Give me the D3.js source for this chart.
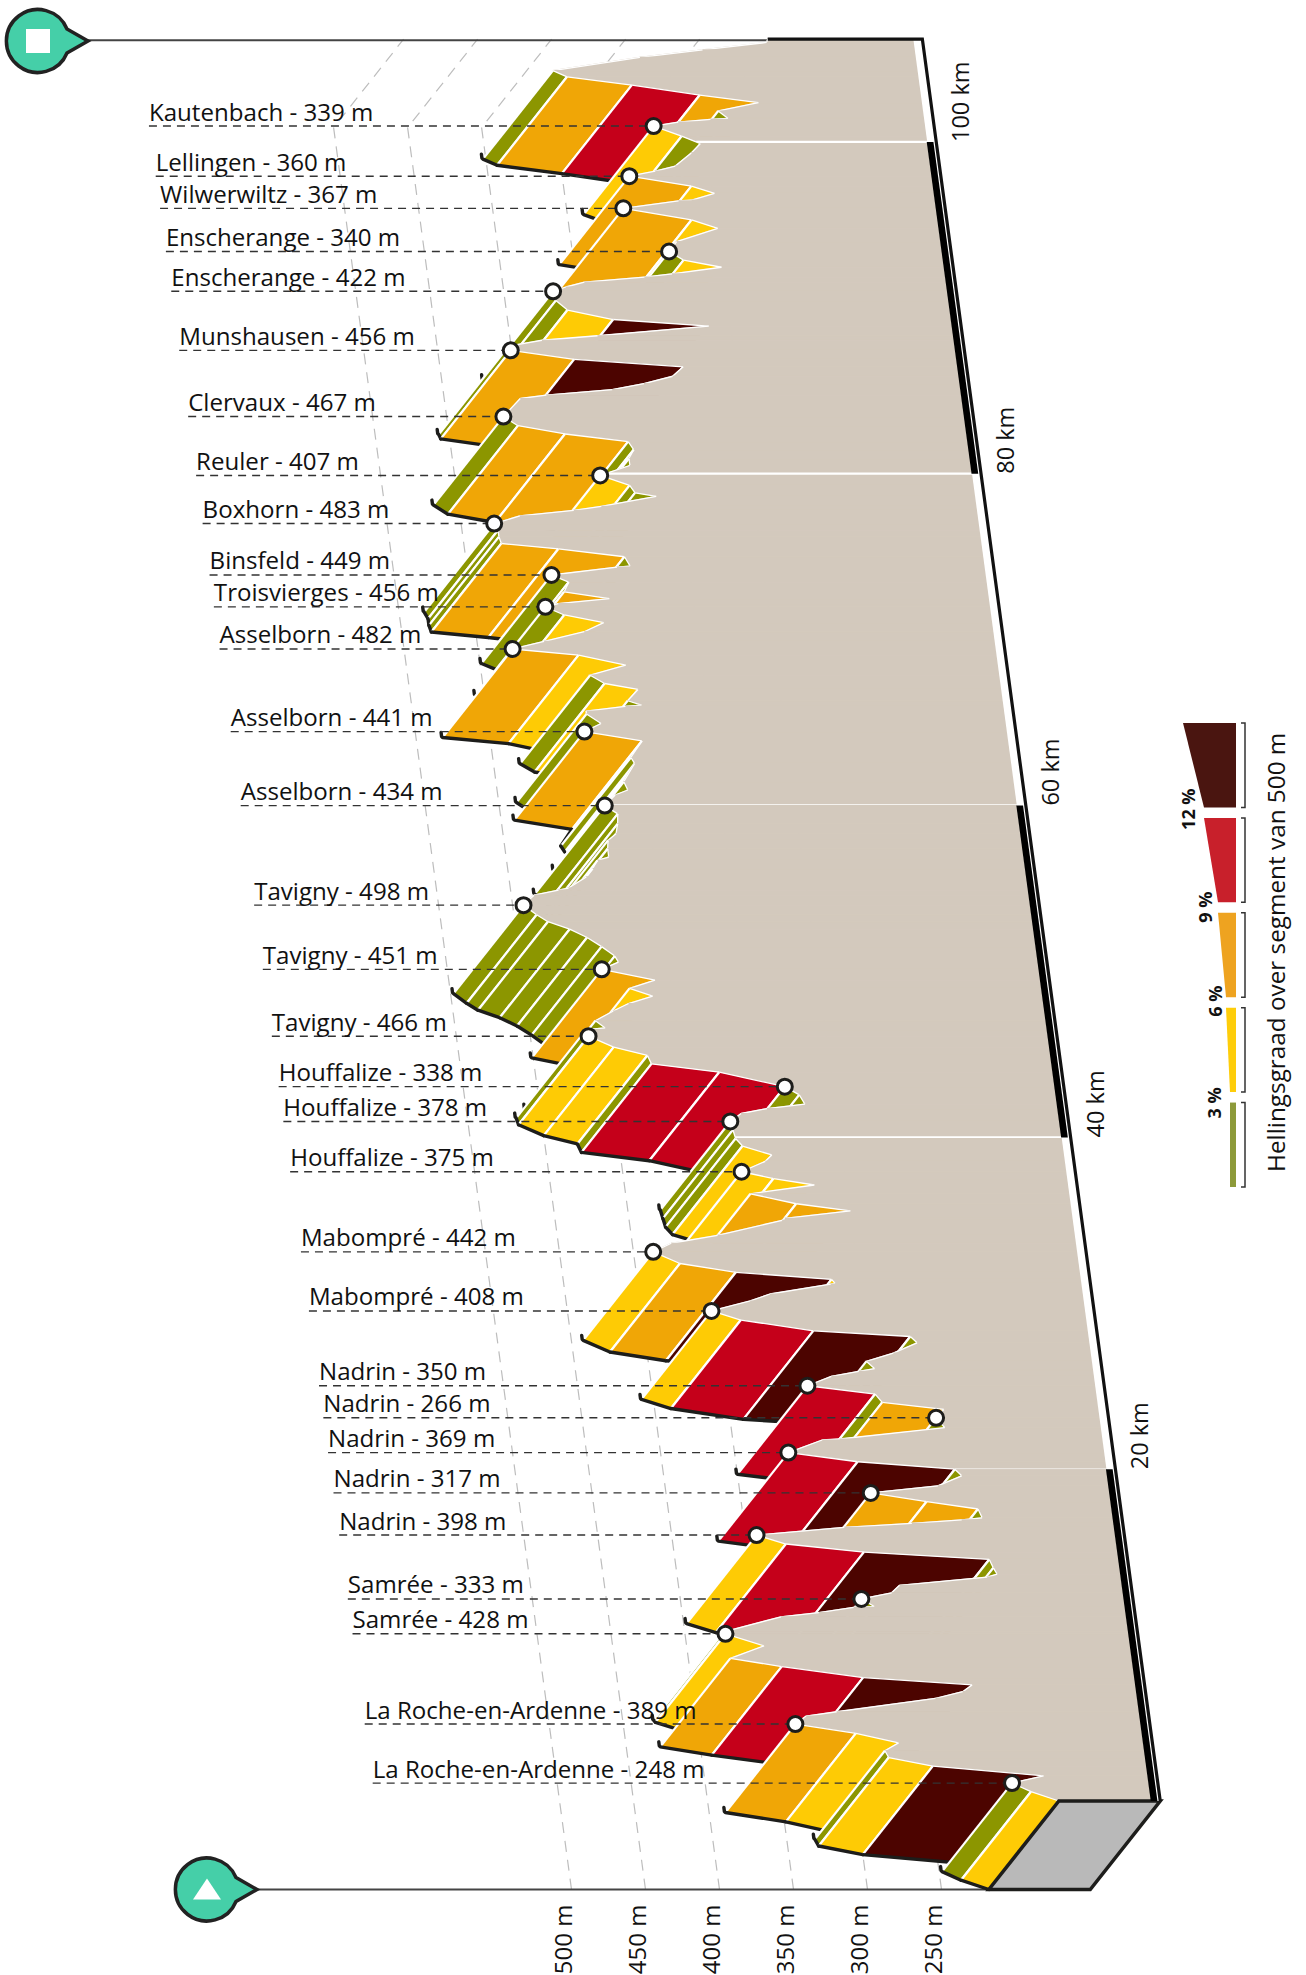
<!DOCTYPE html>
<html>
<head>
<meta charset="utf-8">
<script src="https://cdn.jsdelivr.net/npm/d3@7"></script>
<style>
  body { margin: 0; background: #fff; }
  text { font-family: "Open Sans", sans-serif; fill: #111; }
</style>
</head>
<body>
<svg id="chart" width="1306" height="1975"></svg>
<script>
// profile points: [km, altitude, grade class of the stretch arriving here]
// class 0..4 = the legend colours, null = descent, only the wall shows
var stretch0to20 = [
  [0, 218, null], [0.56, 236, 1], [1.08, 248, 0], [1.52, 226, null], [2.1, 300, 4], [2.62, 329, 1],
  [3.03, 331, 0], [3.5, 321, null], [4.08, 349, 1], [4.64, 389, 2], [5.12, 381, null], [5.38, 360, null],
  [6.18, 292, null], [6.59, 273, null], [7.0, 266, null], [7.44, 339, 4], [8.1, 393, 3], [8.6, 427, 2],
  [9.35, 403, null], [10.08, 428, 1], [10.2, 429, 0], [11.1, 389, null], [11.35, 363, null], [11.67, 339, null],
  [11.72, 325, null], [12.18, 333, 0], [12.55, 312, null], [13.0, 306, null], [13.5, 246, null], [13.67, 239, null],
  [14.05, 241, 0], [14.56, 243, 0], [15.0, 327, 4], [15.49, 379, 3], [16.03, 398, 1], [16.49, 338, null],
  [16.73, 292, null], [16.94, 258, null], [17.07, 244, null], [17.6, 246, 0], [18.05, 280, 2], [18.57, 317, 2],
  [19.0, 271, null], [19.6, 254, null], [20.0, 258, 0]
];
var stretch20to40 = [
  [20.45, 323, 4], [21.0, 369, 3], [21.76, 345, null], [21.82, 333, null], [22.5, 261, null], [23.1, 266, 0],
  [23.6, 260, null], [24.03, 301, 2], [24.53, 305, 0], [25.03, 350, 3], [25.6, 333, null], [25.9, 314, null],
  [26.06, 303, null], [26.5, 308, 0], [27.0, 289, null], [27.62, 272, null], [28.0, 276, 0], [28.34, 341, 4],
  [28.99, 389, 3], [29.54, 408, 1], [30.14, 381, null], [30.56, 367, null], [31.16, 325, null], [31.2, 322, null],
  [31.44, 324, 1], [31.87, 388, 4], [32.4, 425, 2], [33.1, 442, 1], [33.62, 429, null], [34.1, 397, null],
  [35.0, 352, null], [35.12, 350, null], [35.57, 305, null], [36.0, 341, 2], [36.6, 371, 2], [37.13, 327, null],
  [37.52, 354, 1], [37.93, 375, 1], [38.56, 358, null], [38.94, 353, null], [39.48, 372, 1], [39.93, 376, 0]
];
var stretch40to60 = [
  [40.45, 377, 0], [40.96, 378, 0], [41.44, 370, null], [41.74, 352, null], [42.0, 326, null], [42.56, 329, 0],
  [43.06, 338, 0], [43.93, 381, 3], [44.43, 426, 3], [44.94, 428, 0], [45.44, 450, 1], [46.1, 466, 1],
  [46.5, 467, 0], [46.6, 454, null], [47.03, 460, 0], [47.62, 447, null], [48.07, 436, null], [48.52, 419, null],
  [48.98, 434, 1], [49.48, 416, null], [50.13, 451, 2], [50.57, 439, null], [50.93, 441, 0], [51.5, 449, 0],
  [52.05, 458, 0], [52.55, 469, 0], [53.0, 483, 0], [53.42, 490, 0], [54.0, 498, 0], [54.6, 490, null],
  [54.9, 473, null], [55.03, 466, null], [55.7, 453, null], [56.2, 448, 0], [56.7, 444, 0], [56.9, 436, null],
  [57.4, 436, 0], [57.9, 435, 0], [58.3, 429, null], [58.9, 427, 0], [59.5, 426, 0]
];
var stretch60to80 = [
  [60.0, 434, 0], [60.64, 426, null], [60.94, 417, null], [61.44, 419, 0], [62.54, 410, null], [62.9, 412, 0],
  [63.9, 403, 0], [64.46, 441, 2], [64.95, 429, null], [65.52, 438, 0], [65.7, 438, null], [65.98, 411, null],
  [66.06, 400, null], [66.32, 409, 0], [67.0, 401, null], [67.36, 423, 1], [67.86, 432, 0], [68.47, 407, null],
  [69.07, 438, 1], [69.44, 482, 2], [69.9, 460, null], [70.48, 432, null], [71.03, 418, null], [71.49, 444, 1],
  [71.98, 456, 0], [72.18, 447, null], [72.48, 412, null], [72.88, 442, 2], [73.47, 438, 0], [73.9, 449, 0],
  [74.38, 404, null], [74.44, 395, null], [75.0, 398, 0], [75.47, 442, 2], [75.8, 480, 2], [76.2, 481, 0],
  [76.6, 481, 0], [77.0, 483, 0], [77.46, 465, null], [77.8, 428, null], [78.04, 409, null], [78.64, 371, null],
  [78.85, 385, 0], [79.3, 388, 0], [79.9, 407, 1]
];
var stretch80to106 = [
  [80.5, 386, null], [80.92, 386, 0], [81.46, 382, 0], [81.94, 385, 0], [82.4, 427, 2], [82.9, 458, 2],
  [83.45, 467, 0], [84.54, 454, null], [84.74, 436, null], [85.08, 391, null], [85.44, 369, null], [85.88, 349, null],
  [86.45, 341, null], [86.9, 414, 4], [87.44, 456, 2], [87.7, 457, 0], [88.05, 434, null], [88.32, 396, null],
  [88.9, 320, null], [89.3, 384, 4], [89.87, 414, 1], [90.44, 421, 0], [91.0, 422, 0], [91.26, 413, null],
  [91.55, 400, null], [91.85, 359, null], [92.05, 340, null], [92.45, 306, null], [92.88, 331, 1], [93.4, 340, 0],
  [94.0, 334, null], [94.8, 305, null], [95.3, 322, 1], [96.0, 367, 2], [96.45, 329, null], [96.5, 320, null],
  [96.9, 304, null], [97.34, 319, 1], [97.94, 360, 2], [98.25, 342, null], [98.55, 328, null], [99.34, 316, null],
  [99.9, 309, null], [100.35, 321, 0], [100.96, 339, 1], [101.2, 322, null], [101.36, 300, null], [101.42, 288, null],
  [101.87, 294, 0], [102.37, 266, null], [102.83, 305, 2], [103.43, 350, 3], [103.93, 393, 2], [104.3, 402, 0],
  [105.1, 342, null], [105.55, 299, null], [106.0, 255, null], [106.2, 254, null]
];

var placeNames = ["Kautenbach", "Lellingen", "Wilwerwiltz", "Enscherange", "Enscherange", "Munshausen", "Clervaux",
  "Reuler", "Boxhorn", "Binsfeld", "Troisvierges", "Asselborn", "Asselborn", "Asselborn", "Tavigny", "Tavigny", "Tavigny",
  "Houffalize", "Houffalize", "Houffalize", "Mabompré", "Mabompré", "Nadrin", "Nadrin", "Nadrin", "Nadrin", "Nadrin",
  "Samrée", "Samrée", "La Roche-en-Ardenne", "La Roche-en-Ardenne"];
var placeAlts = [339, 360, 367, 340, 422, 456, 467, 407, 483, 449, 456, 482, 441, 434, 498, 451, 466,
  338, 378, 375, 442, 408, 350, 266, 369, 317, 398, 333, 428, 389, 248];
var placeKms = [100.96, 97.94, 96.0, 93.4, 91.0, 87.44, 83.45, 79.9, 77.0, 73.9, 71.98, 69.44, 64.46, 60.0, 54.0, 50.13, 46.1,
  43.06, 40.96, 37.93, 33.1, 29.54, 25.03, 23.1, 21.0, 18.57, 16.03, 12.18, 10.08, 4.64, 1.08];

var altTicks = [500, 450, 400, 350, 300, 250];
var kmTicks = [20, 40, 60, 80, 100];
var gradeColors = ["#8c9600", "#fecb05", "#f0a606", "#c5001a", "#4c0400"];

var legendColors = ["#8d9a3a", "#fecd0a", "#eea320", "#c8202b", "#4a1510"];
var legendFrom = [0, 3, 6, 9, 12];
var legendTo = [3, 6, 9, 12, 18];
var legendLabels = ["3 %", "6 %", "9 %", "12 %"];
var legendLabelDx = [9, 4, 6, 9];
var legendLabelDy = [16, 9, 10, 12];

var floorAlt = 149.5;
var kmEnd = 106.2;
var labelAlt = 680;   // the leaders all start on this altitude line
var tan = "#d3c9bd";
var ink = "#1d1d1b";

var svg = d3.select("#chart");
var profile = stretch0to20.concat(stretch20to40, stretch40to60, stretch60to80, stretch80to106);

var xAlt = d3.scaleLinear().domain([250, 500]).range([941.5, 571.5]);
var yKm = d3.scaleLinear().domain([0, 100]).range([1889.5, 230.5]);
var kmShift = d3.scaleLinear().domain([0, 100]).range([0, -224]);
var depthX = d3.scaleLinear().domain([0, 1]).range([0, 70]);
var depthY = d3.scaleLinear().domain([0, 1]).range([0, -88.5]);

// km along the road, altitude, d = 0 front edge of the road and 1 back edge
function project(km, alt, d) {
  return [xAlt(alt) + kmShift(km) + depthX(d), yKm(km) + depthY(d)];
}

var line = d3.line();
var poly = function(pts) { return line(pts) + "Z"; };

// grid
var grid = svg.append("g");
altTicks.forEach(function(a) {
  grid.append("path")
    .attr("d", line([project(0, a, 0), project(kmEnd, a, 0), project(kmEnd, a, 1)]))
    .attr("fill", "none").attr("stroke", "#bdbdbd").attr("stroke-width", 1.2).attr("stroke-dasharray", "11 8");
  var p = project(0, a, 0);
  grid.append("text")
    .attr("transform", "translate(" + p[0] + "," + (p[1] + 15) + ") rotate(-90)")
    .attr("text-anchor", "end").attr("font-size", 24)
    .text(a + " m");
});

// guide lines and bubbles
var startP = project(0, profile[0][1], 0);
var endP = project(kmEnd, profile[profile.length - 1][1], 1);
svg.append("line").attr("x1", 70).attr("x2", endP[0]).attr("y1", endP[1] + 1).attr("y2", endP[1] + 1)
  .attr("stroke", "#444").attr("stroke-width", 2);
svg.append("line").attr("x1", 240).attr("x2", startP[0]).attr("y1", startP[1]).attr("y2", startP[1])
  .attr("stroke", "#444").attr("stroke-width", 2);

function bubble(cx, cy) {
  var g = svg.append("g").attr("transform", "translate(" + cx + "," + cy + ")");
  g.append("path")
    .attr("d", "M29,-12 L50,0 L29,12 A31.5,31.5 0 1 1 29,-12Z")
    .attr("fill", "#45cfa8").attr("stroke", "#222").attr("stroke-width", 3.5).attr("stroke-linejoin", "miter");
  return g;
}
bubble(38, 41).append("rect").attr("x", -12).attr("y", -12).attr("width", 24).attr("height", 24).attr("fill", "#fff");
bubble(207, startP[1]).append("path").attr("d", "M-14,10 L0,-11 L14,10Z").attr("fill", "#fff");

// painter's order: far end of the stage first, each stretch covers what lies behind it
var scene = svg.append("g");
var n = profile.length;
for (var i = n - 2; i >= 0; i--) {
  var a = profile[i], b = profile[i + 1], cls = b[2];
  var wall = [project(a[0], a[1], 1), project(b[0], b[1], 1), project(b[0], floorAlt, 1), project(a[0], floorAlt, 1)];
  scene.append("path").attr("d", poly(wall)).attr("fill", tan).attr("stroke", tan).attr("stroke-width", 1.2);

  kmTicks.forEach(function(k) {
    if (a[0] <= k && k < b[0]) {
      var top = a[1] + (b[1] - a[1]) * (k - a[0]) / (b[0] - a[0]);
      scene.append("path").attr("d", line([project(k, top, 1), project(k, floorAlt, 1)]))
        .attr("stroke", "#fff").attr("stroke-width", 2.5).attr("fill", "none");
    }
  });

  if (cls !== null) {
    var a1 = project(a[0], a[1], 1), b1 = project(b[0], b[1], 1), b0 = project(b[0], b[1], 0), a0 = project(a[0], a[1], 0);
    scene.append("path").attr("d", poly([a1, b1, b0, a0])).attr("fill", gradeColors[cls]);
    scene.append("path").attr("d", line([a1, a0])).attr("stroke", "#fff").attr("stroke-width", 2.2);
    scene.append("path").attr("d", line([b1, b0])).attr("stroke", "#fff").attr("stroke-width", 2.2);
    var last = i + 2 >= n || profile[i + 2][2] === null;
    var front = last ? [[b0[0] - 1.5, b0[1] - 5], [b0[0] - 1, b0[1] - 1], b0, a0] : [b0, a0];
    scene.append("path").attr("d", line(front))
      .attr("fill", "none").attr("stroke", ink).attr("stroke-width", 3.4).attr("stroke-linecap", "round").attr("stroke-linejoin", "round");
  }
  scene.append("path").attr("d", line([project(a[0], a[1], 1), project(b[0], b[1], 1)]))
    .attr("stroke", "#fff").attr("stroke-width", 1.3).attr("fill", "none");
}

// block at the start
var box = [project(0, profile[0][1], 0), project(0, floorAlt, 0), project(0, floorAlt, 1), project(0, profile[0][1], 1)];
svg.append("path").attr("d", poly(box)).attr("fill", "#b9b9b9").attr("stroke", ink).attr("stroke-width", 3.5).attr("stroke-linejoin", "miter");

// km axis, alternating bands next to the far floor line
var floor0 = project(0, floorAlt, 1), floor1 = project(kmEnd, floorAlt, 1);
svg.append("path").attr("d", poly([floor0, floor1, [floor1[0] - 9, floor1[1]], [floor0[0] - 9, floor0[1]]]))
  .attr("fill", "#fff");
var bandEdges = [0].concat(kmTicks, [kmEnd]);
d3.pairs(bandEdges).forEach(function(p, j) {
  if (j % 2 === 0) {
    var q0 = project(p[0], floorAlt, 1), q1 = project(p[1], floorAlt, 1);
    svg.append("path").attr("d", poly([[q0[0] - 2.8, q0[1]], [q1[0] - 2.8, q1[1]], [q1[0] - 9.5, q1[1]], [q0[0] - 9.5, q0[1]]]))
      .attr("fill", "#000");
  }
});
svg.append("path").attr("d", line([project(0, floorAlt, 1), project(kmEnd, floorAlt, 1), project(kmEnd, profile[n - 1][1], 1)]))
  .attr("fill", "none").attr("stroke", "#111").attr("stroke-width", 3.2).attr("stroke-linejoin", "miter");
kmTicks.forEach(function(k) {
  var p = project(k, floorAlt, 1);
  svg.append("text")
    .attr("transform", "translate(" + (p[0] + 33) + "," + p[1] + ") rotate(-90)")
    .attr("font-size", 23.5).text(k + " km");
});

// place names with their leaders
placeNames.forEach(function(name, j) {
  var m = project(placeKms[j], placeAlts[j], 1);
  var s = project(placeKms[j], labelAlt, 1);
  svg.append("line").attr("x1", s[0]).attr("x2", m[0]).attr("y1", m[1]).attr("y2", m[1])
    .attr("stroke", "#333").attr("stroke-width", 1.4).attr("stroke-dasharray", "8 6");
  svg.append("text").attr("x", s[0]).attr("y", m[1] - 5.5).attr("font-size", 24.1)
    .text(name + " - " + placeAlts[j] + " m");
  svg.append("circle").attr("cx", m[0]).attr("cy", m[1]).attr("r", 7.5)
    .attr("fill", "#fff").attr("stroke", ink).attr("stroke-width", 3);
});

// legend
var legendY = d3.scaleBand().domain([4, 3, 2, 1, 0]).range([723, 1187]).paddingInner(0.11);
var legendW = d3.scaleLinear().domain([0, 3, 6, 9, 12, 18]).range([6, 6, 10, 18, 32, 53]);
var legendRight = 1236;
legendColors.forEach(function(c, j) {
  var y0 = legendY(j), y1 = y0 + legendY.bandwidth();
  svg.append("path").attr("d", poly([[legendRight - legendW(legendTo[j]), y0], [legendRight, y0], [legendRight, y1], [legendRight - legendW(legendFrom[j]), y1]]))
    .attr("fill", c);
  svg.append("path").attr("d", "M1241," + y0 + "H1245V" + y1 + "H1241")
    .attr("fill", "none").attr("stroke", "#333").attr("stroke-width", 1.5);
  if (j < legendLabels.length) {
    svg.append("text")
      .attr("transform", "translate(" + (legendRight - legendW(legendTo[j]) - legendLabelDx[j]) + "," + (y0 + legendLabelDy[j]) + ") rotate(-90)")
      .attr("font-size", 18).attr("font-weight", 700).text(legendLabels[j]);
  }
});
svg.append("text").attr("transform", "translate(1285,1172) rotate(-90)")
  .attr("font-size", 24.3).text("Hellingsgraad over segment van 500 m");
</script>
</body>
</html>
